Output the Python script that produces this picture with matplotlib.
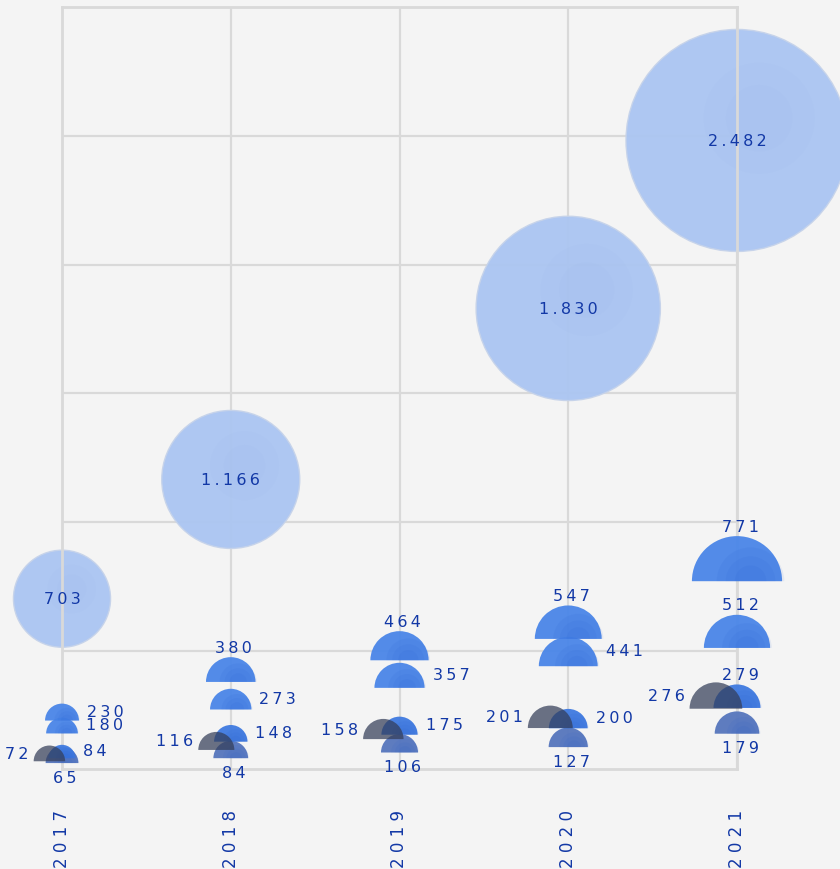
import matplotlib
matplotlib.use("Agg")
import matplotlib.pyplot as plt
from matplotlib.patches import Wedge, Circle
from matplotlib.transforms import ScaledTranslation

years = [2017, 2018, 2019, 2020, 2021]
totals = [703, 1166, None, 1830, 2482]
series_a = [230, 380, 464, 547, 771]
series_b = [180, 273, 357, 441, 512]
series_c = [84, 148, 175, 200, 279]
series_d = [72, 116, 158, 201, 276]
series_e = [65, 84, 106, 127, 179]

text_col = "#1238a6"
bg = "#f4f4f4"
grid_col = "#d9d9d9"

# series, colour, base radius (px), label side, dark?
semi_styles = [
    (series_e, "#5676bd", 13, "below", False),
    (series_c, "#3f7ae0", 9, "right", False),
    (series_b, "#4a86e8", 6.5, "right", False),
    (series_a, "#4a86e8", 5, "above", False),
    (series_d, "#333d58", 12, "left", True),
]
# a few labels sit elsewhere to avoid collisions
side_fix = {(230, 2017): "right", (512, 2021): "above", (279, 2021): "above"}


def fmt(v):
    s = f"{v:,}".replace(",", ".")
    return "\u2009".join(s)


def big_r(v):
    return 2.68 * v ** 0.5 - 22.5


fig = plt.figure(figsize=(8.4, 8.7), dpi=100, facecolor=bg)
ax = fig.add_axes([62 / 840, 1 - 770 / 870, 675 / 840, 762 / 870])
ax.set_facecolor(bg)
ax.set_xlim(2017, 2021)
ax.set_ylim(42, 3000)
ax.set_yticks([500, 1000, 1500, 2000, 2500])
ax.set_yticklabels([])
ax.set_xticks(years)
ax.set_xticklabels([" ".join(str(y)) for y in years], rotation=90,
                   color=text_col, fontsize=12, va="top")
ax.tick_params(length=0)
ax.tick_params(axis="x", pad=29)
ax.grid(color=grid_col, lw=1.6, zorder=0)
ax.set_axisbelow(True)
for sp in ax.spines.values():
    sp.set_color(grid_col)
    sp.set_linewidth(2)


def at(x, y, dx=0.0):
    # pixel-sized shapes anchored at a data point
    return (fig.dpi_scale_trans + ScaledTranslation(dx / 100, 0, fig.dpi_scale_trans)
            + ScaledTranslation(x, y, ax.transData))


# big circles
for yr, t in zip(years, totals):
    if t is None:
        continue
    r = big_r(t) / 100
    ax.add_patch(Circle((0, 0), r, transform=at(yr, t), facecolor="#abc5f2",
                        edgecolor="#c6d3ea", lw=1, alpha=0.95, clip_on=False, zorder=2))
    for k in (0.5, 0.3):
        ax.add_patch(Circle((r * 0.2, r * 0.2), r * k, transform=at(yr, t),
                            facecolor="#94b3ec", edgecolor="none", alpha=0.07,
                            clip_on=False, zorder=2))
    ax.text(yr, t, fmt(t), ha="center", va="center", color=text_col,
            fontsize=11.5, zorder=6)

# semicircles
for vals, col, r0, side, dark in semi_styles:
    for yr, v in zip(years, vals):
        r = r0 + 0.052 * v
        shift = -0.8 * r if dark else 0.0
        ax.add_patch(Wedge((0, 0), r / 100, 0, 180, transform=at(yr, v, shift),
                           facecolor=col, edgecolor="none", alpha=0.72 if dark else 0.95,
                           clip_on=False, zorder=4 if dark else 3))
        if not dark:
            for k in (0.75, 0.55, 0.35):
                ax.add_patch(Wedge((r * 0.3 / 100, 0), r * k / 100, 0, 180,
                                   transform=at(yr, v), facecolor="#1f56cc",
                                   edgecolor="none", alpha=0.08, clip_on=False, zorder=3))
        s = side_fix.get((v, yr), side)
        if s == "above":
            xy, ha = (3, r + 10), "center"
        elif s == "right":
            xy, ha = (r + 8, 0.55 * r), "left"
        elif s == "left":
            xy, ha = (shift - r - 5, 0.5 * r), "right"
        else:
            xy, ha = (3, -14), "center"
        ax.annotate(fmt(v), xy=(yr, v), xytext=xy, textcoords="offset pixels",
                    ha=ha, va="center", color=text_col, fontsize=11.5, zorder=6,
                    annotation_clip=False)

fig.savefig("out.png", dpi=100, facecolor=bg)
